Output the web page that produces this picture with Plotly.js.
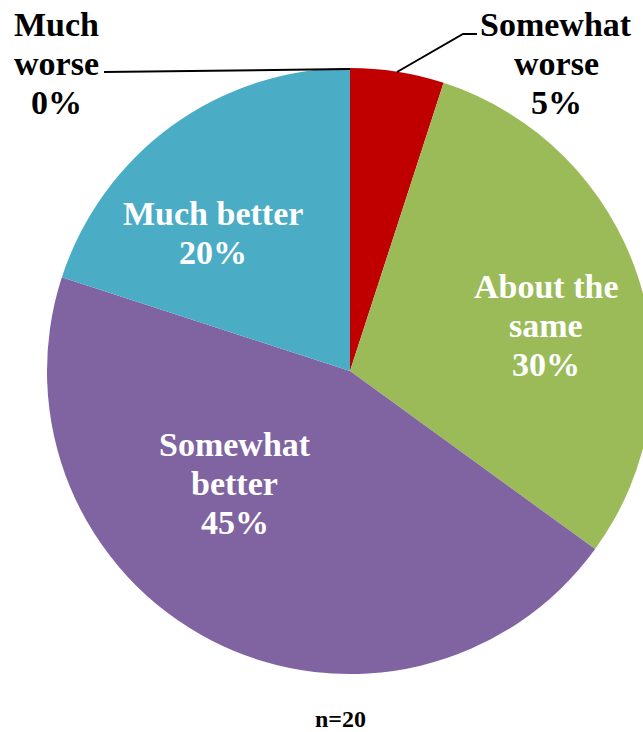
<!DOCTYPE html>
<html>
<head>
<meta charset="utf-8">
<script src="https://cdn.plot.ly/plotly-3.0.1.min.js"></script>
<style>
html, body { margin: 0; padding: 0; overflow: hidden; background: #fff; }
#chart { width: 700px; height: 732px; }
</style>
</head>
<body>
<div id="chart"></div>
<script>
// ---- data ----
const categories = ['Much worse', 'Somewhat worse', 'About the same', 'Somewhat better', 'Much better'];
const values = [0, 5, 30, 45, 20];
const labelLines = [['Much', 'worse'], ['Somewhat', 'worse'], ['About the', 'same'], ['Somewhat', 'better'], ['Much better']];
const footnote = 'n=20';

// ---- style ----
const colors = ['#4BACC6', '#C00000', '#9BBB59', '#8064A2', '#4BACC6'];
const textColors = ['#000000', '#000000', '#FFFFFF', '#FFFFFF', '#FFFFFF'];
const labelPos = [[56, 36], [556, 36], [546, 298], [235, 456], [213, 225]]; // center x, first baseline (px)
const lineSpacing = 39;
const fontSize = 34;
const W = 700, H = 732;
const FONT = 'Liberation Serif';

const px = x => x / W;
const py = y => 1 - y / H;

const annotations = [];
categories.forEach((c, i) => {
  const lines = labelLines[i].concat([values[i] + '%']);
  lines.forEach((t, k) => {
    const baseline = labelPos[i][1] + k * lineSpacing;
    annotations.push({
      text: t, xref: 'paper', yref: 'paper',
      x: px(labelPos[i][0]), y: py(baseline - 0.3375 * fontSize),
      xanchor: 'center', yanchor: 'middle', showarrow: false,
      font: { family: FONT, size: fontSize, color: textColors[i], weight: 700 }
    });
  });
});
annotations.push({
  text: footnote, xref: 'paper', yref: 'paper',
  x: px(340), y: py(727 - 0.3375 * 24), xanchor: 'center', yanchor: 'middle', showarrow: false,
  font: { family: FONT, size: 24, color: '#000', weight: 700 }
});

const shapes = [
  { type: 'path', xref: 'paper', yref: 'paper',
    path: `M ${px(104)} ${py(72)} L ${px(350)} ${py(69)}`,
    line: { color: '#000', width: 2 } },
  { type: 'path', xref: 'paper', yref: 'paper',
    path: `M ${px(397)} ${py(72)} L ${px(463)} ${py(34)} L ${px(477)} ${py(34)}`,
    line: { color: '#000', width: 2 } }
];

const trace = {
  type: 'pie', labels: categories, values: values, sort: false,
  direction: 'clockwise', rotation: 0, textinfo: 'none', hoverinfo: 'none',
  marker: { colors: colors, line: { width: 0 } },
  domain: { x: [px(47), px(653)], y: [py(674), py(68)] },
  showlegend: false
};

Plotly.newPlot('chart', [trace], {
  width: W, height: H, margin: { l: 0, r: 0, t: 0, b: 0 },
  paper_bgcolor: '#fff', font: { family: FONT }, showlegend: false,
  annotations: annotations, shapes: shapes
}, { displayModeBar: false, staticPlot: true });
</script>
</body>
</html>
